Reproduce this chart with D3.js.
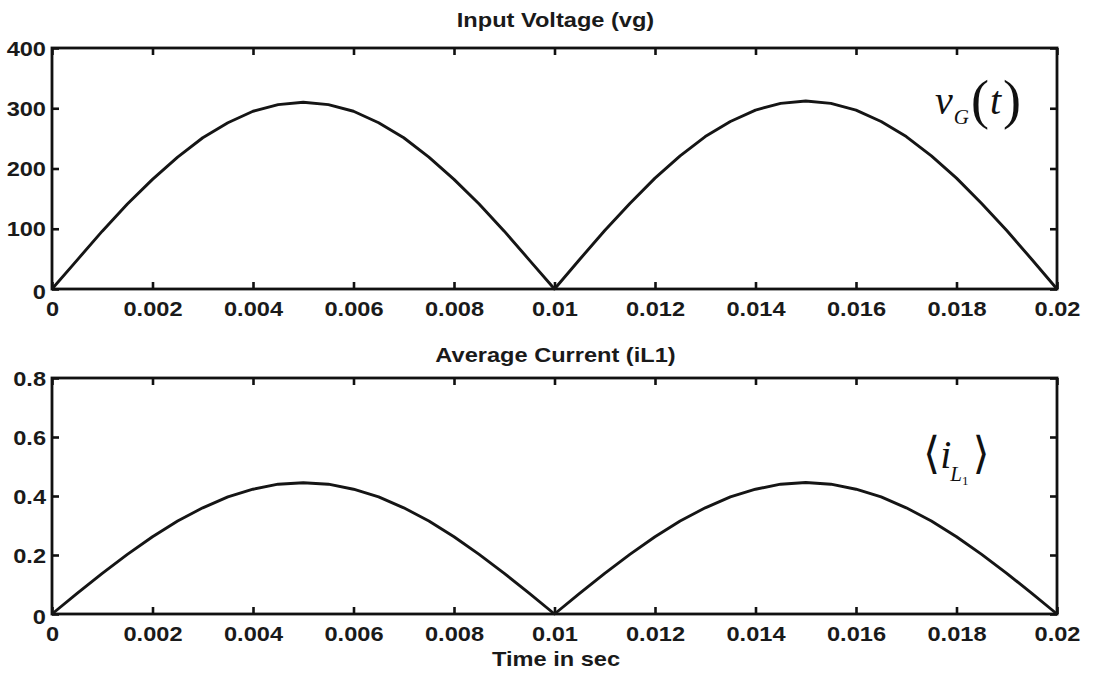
<!DOCTYPE html>
<html>
<head>
<meta charset="utf-8">
<script src="https://cdn.jsdelivr.net/npm/d3@7/dist/d3.min.js"></script>
<style>
  html, body { margin: 0; padding: 0; background: #fff; }
  svg { display: block; }
  text { font-family: "Liberation Sans", Arial, sans-serif; font-weight: bold; fill: #1a1a1a; }
</style>
</head>
<body>
<svg id="chart" width="1094" height="675"></svg>
<script>
// Sample times (s)
const time = [0, 0.0005, 0.001, 0.0015, 0.002, 0.0025, 0.003, 0.0035, 0.004, 0.0045, 0.005,
  0.0055, 0.006, 0.0065, 0.007, 0.0075, 0.008, 0.0085, 0.009, 0.0095, 0.01,
  0.0105, 0.011, 0.0115, 0.012, 0.0125, 0.013, 0.0135, 0.014, 0.0145, 0.015,
  0.0155, 0.016, 0.0165, 0.017, 0.0175, 0.018, 0.0185, 0.019, 0.0195, 0.02];

// Rectified input voltage vg (V)
const vg = [0, 48, 96, 141, 182, 219, 251, 276, 295, 306, 310,
  306, 295, 276, 251, 219, 182, 141, 96, 48, 0,
  49, 97, 142, 184, 221, 253, 278, 297, 308, 312,
  308, 297, 278, 253, 221, 184, 142, 97, 49, 0];

// Averaged inductor current iL1 (A)
const iL1 = [0, 0.070, 0.138, 0.202, 0.262, 0.315, 0.360, 0.397, 0.423, 0.440, 0.445,
  0.440, 0.423, 0.397, 0.360, 0.315, 0.262, 0.202, 0.138, 0.070, 0,
  0.070, 0.138, 0.202, 0.262, 0.315, 0.360, 0.397, 0.423, 0.440, 0.446,
  0.440, 0.423, 0.397, 0.360, 0.315, 0.262, 0.202, 0.138, 0.070, 0];

const xTicks = [0, 0.002, 0.004, 0.006, 0.008, 0.01, 0.012, 0.014, 0.016, 0.018, 0.02];
const xTickLabels = ["0", "0.002", "0.004", "0.006", "0.008", "0.01", "0.012", "0.014", "0.016", "0.018", "0.02"];
const vgTicks = [0, 100, 200, 300, 400];
const vgTickLabels = ["0", "100", "200", "300", "400"];
const iTicks = [0, 0.2, 0.4, 0.6, 0.8];
const iTickLabels = ["0", "0.2", "0.4", "0.6", "0.8"];

const SX = 1.18;       // horizontal stretch of the lettering
const FS = 20;         // font size
const svg = d3.select("#chart");

const left = 52, right = 1057;
const x = d3.scaleLinear().domain([0, 0.02]).range([left, right]);

function panel(opts) {
  const { top, bottom, yDomain, yTicks, yLabels, values, title, titleY } = opts;
  const y = d3.scaleLinear().domain(yDomain).range([bottom, top]);
  const g = svg.append("g");
  const labelOf = (arr, labels) => d => labels[arr.indexOf(d)];

  // inward ticks on all four sides
  const tick = 7;
  const axB = g.append("g").attr("transform", `translate(0,${bottom})`)
    .call(d3.axisBottom(x).tickValues(xTicks).tickSize(-tick)
      .tickFormat(labelOf(xTicks, xTickLabels)));
  const axT = g.append("g").attr("transform", `translate(0,${top})`)
    .call(d3.axisTop(x).tickValues(xTicks).tickSize(-tick).tickFormat(""));
  const axL = g.append("g").attr("transform", `translate(${left},0)`)
    .call(d3.axisLeft(y).tickValues(yTicks).tickSize(-tick)
      .tickFormat(labelOf(yTicks, yLabels)));
  const axR = g.append("g").attr("transform", `translate(${right},0)`)
    .call(d3.axisRight(y).tickValues(yTicks).tickSize(-tick).tickFormat(""));

  [axB, axT, axL, axR].forEach(a => {
    a.select(".domain").remove();
    a.selectAll(".tick line").attr("stroke", "#111").attr("stroke-width", 2.6);
  });

  axB.selectAll(".tick text")
    .attr("font-size", FS).attr("font-family", null).attr("fill", "#1a1a1a")
    .attr("y", null).attr("dy", null)
    .attr("transform", `translate(0,27) scale(${SX},1)`);
  axL.selectAll(".tick text")
    .attr("font-size", FS).attr("font-family", null).attr("fill", "#1a1a1a")
    .attr("x", null).attr("dy", null)
    .attr("text-anchor", "end")
    .attr("transform", d => `translate(-6,${d === 0 ? 9 : 7}) scale(${SX},1)`);

  // frame
  g.append("rect")
    .attr("x", left).attr("y", top)
    .attr("width", right - left).attr("height", bottom - top)
    .attr("fill", "none").attr("stroke", "#111").attr("stroke-width", 2.8);

  // waveform
  const line = d3.line().x((d, i) => x(time[i])).y(d => y(d));
  g.append("path").datum(values)
    .attr("d", line)
    .attr("fill", "none").attr("stroke", "#151515")
    .attr("stroke-width", 2.9).attr("stroke-linejoin", "round");

  // title
  g.append("text")
    .attr("text-anchor", "middle").attr("font-size", FS)
    .attr("transform", `translate(${(left + right) / 2 + 1},${titleY}) scale(${SX},1)`)
    .text(title);

  return { g, y };
}

panel({ top: 48, bottom: 289, yDomain: [0, 400], yTicks: vgTicks, yLabels: vgTickLabels,
  values: vg, title: "Input Voltage (vg)", titleY: 27 });
panel({ top: 378, bottom: 614, yDomain: [0, 0.8], yTicks: iTicks, yLabels: iTickLabels,
  values: iL1, title: "Average Current (iL1)", titleY: 362 });

// x-axis caption
svg.append("text")
  .attr("text-anchor", "middle").attr("font-size", FS)
  .attr("transform", `translate(556,666) scale(${SX},1)`)
  .text("Time in sec");

// symbolic labels in serif italics
const serif = "'Liberation Serif', 'Times New Roman', serif";
const vLabel = svg.append("text")
  .attr("x", 935).attr("y", 114)
  .style("font-family", serif).style("font-weight", "normal").style("fill", "#111");
vLabel.append("tspan").style("font-size", "40px").style("font-style", "italic").text("v");
vLabel.append("tspan").style("font-size", "21px").style("font-style", "italic").attr("dy", 10).attr("dx", 1).text("G");
vLabel.append("tspan").style("font-size", "54px").attr("dy", -6).attr("dx", 2).text("(");
vLabel.append("tspan").style("font-size", "40px").style("font-style", "italic").attr("dx", 1).attr("dy", -4).text("t");
vLabel.append("tspan").style("font-size", "54px").attr("dx", 2).attr("dy", 4).text(")");

const iLabel = svg.append("text")
  .attr("x", 923).attr("y", 468)
  .style("font-family", serif).style("font-weight", "normal").style("fill", "#111");
iLabel.append("tspan").style("font-size", "44px").style("font-family", "'DejaVu Serif', serif").style("font-weight", "200").text("\u27E8");
iLabel.append("tspan").style("font-size", "40px").style("font-style", "italic").attr("dx", 0).text("i");
iLabel.append("tspan").style("font-size", "21px").style("font-style", "italic").attr("dy", 13).attr("dx", -1).text("L");
iLabel.append("tspan").style("font-size", "13px").attr("dy", 4).text("1");
iLabel.append("tspan").style("font-size", "44px").attr("dy", -17).attr("dx", 4).style("font-family", "'DejaVu Serif', serif").text("\u27E9");
</script>
</body>
</html>
